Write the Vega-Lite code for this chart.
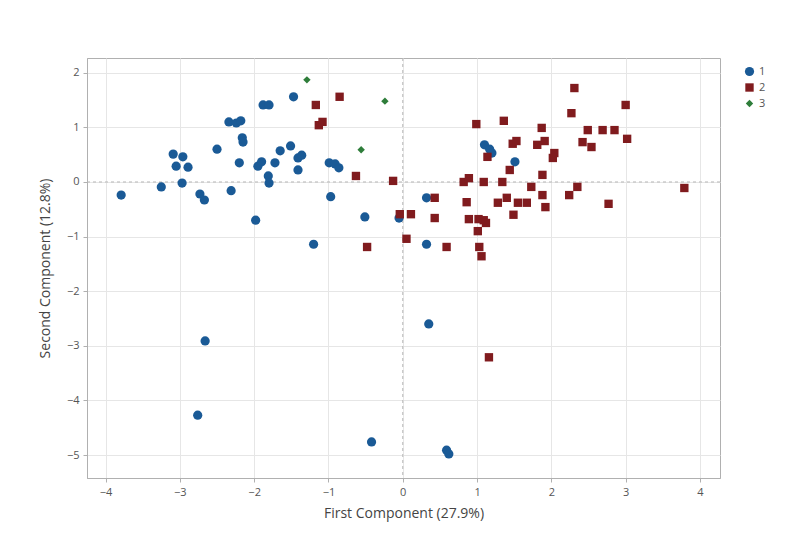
{
  "$schema": "https://vega.github.io/schema/vega-lite/v6.json",
  "width": 633,
  "height": 420,
  "autosize": {"type": "none"},
  "padding": {"left": 87, "top": 58, "right": 85, "bottom": 61},
  "background": "white",
  "config": {
    "font": "Open Sans",
    "view": {"stroke": "#b0b0b0", "strokeWidth": 1},
    "axis": {
      "labelFont": "Open Sans", "titleFont": "Open Sans",
      "labelColor": "#555", "titleColor": "#444",
      "labelFontSize": 11, "titleFontSize": 14, "titleFontWeight": "normal",
      "gridColor": "#e6e6e6", "domainColor": "#b0b0b0", "tickColor": "#b0b0b0",
      "tickSize": 4
    }
  },
  "datasets": {
    "pts": [
      {"x": -3.79, "y": -0.24, "g": "1"},
      {"x": -3.25, "y": -0.09, "g": "1"},
      {"x": -2.97, "y": -0.02, "g": "1"},
      {"x": -3.09, "y": 0.51, "g": "1"},
      {"x": -2.96, "y": 0.46, "g": "1"},
      {"x": -3.05, "y": 0.29, "g": "1"},
      {"x": -2.89, "y": 0.27, "g": "1"},
      {"x": -2.50, "y": 0.60, "g": "1"},
      {"x": -2.34, "y": 1.10, "g": "1"},
      {"x": -2.24, "y": 1.08, "g": "1"},
      {"x": -2.18, "y": 1.12, "g": "1"},
      {"x": -2.16, "y": 0.81, "g": "1"},
      {"x": -2.15, "y": 0.73, "g": "1"},
      {"x": -2.20, "y": 0.35, "g": "1"},
      {"x": -2.73, "y": -0.22, "g": "1"},
      {"x": -2.67, "y": -0.33, "g": "1"},
      {"x": -2.31, "y": -0.16, "g": "1"},
      {"x": -1.98, "y": -0.70, "g": "1"},
      {"x": -1.88, "y": 1.41, "g": "1"},
      {"x": -1.80, "y": 1.41, "g": "1"},
      {"x": -1.65, "y": 0.57, "g": "1"},
      {"x": -1.51, "y": 0.66, "g": "1"},
      {"x": -1.41, "y": 0.44, "g": "1"},
      {"x": -1.36, "y": 0.49, "g": "1"},
      {"x": -1.95, "y": 0.29, "g": "1"},
      {"x": -1.90, "y": 0.37, "g": "1"},
      {"x": -1.72, "y": 0.35, "g": "1"},
      {"x": -1.81, "y": 0.11, "g": "1"},
      {"x": -1.80, "y": -0.02, "g": "1"},
      {"x": -1.41, "y": 0.22, "g": "1"},
      {"x": -1.47, "y": 1.56, "g": "1"},
      {"x": -0.99, "y": 0.35, "g": "1"},
      {"x": -0.91, "y": 0.33, "g": "1"},
      {"x": -0.86, "y": 0.26, "g": "1"},
      {"x": -0.97, "y": -0.27, "g": "1"},
      {"x": -1.20, "y": -1.14, "g": "1"},
      {"x": -0.51, "y": -0.64, "g": "1"},
      {"x": -0.05, "y": -0.66, "g": "1"},
      {"x": 0.32, "y": -0.29, "g": "1"},
      {"x": 0.32, "y": -1.14, "g": "1"},
      {"x": 1.10, "y": 0.68, "g": "1"},
      {"x": 1.17, "y": 0.60, "g": "1"},
      {"x": 1.20, "y": 0.53, "g": "1"},
      {"x": 1.51, "y": 0.37, "g": "1"},
      {"x": -2.66, "y": -2.91, "g": "1"},
      {"x": -2.76, "y": -4.27, "g": "1"},
      {"x": -0.42, "y": -4.76, "g": "1"},
      {"x": 0.35, "y": -2.60, "g": "1"},
      {"x": 0.59, "y": -4.91, "g": "1"},
      {"x": 0.62, "y": -4.98, "g": "1"},
      {"x": -1.17, "y": 1.41, "g": "2"},
      {"x": -0.85, "y": 1.56, "g": "2"},
      {"x": -1.13, "y": 1.04, "g": "2"},
      {"x": -1.08, "y": 1.10, "g": "2"},
      {"x": -0.63, "y": 0.11, "g": "2"},
      {"x": -0.13, "y": 0.02, "g": "2"},
      {"x": -0.48, "y": -1.19, "g": "2"},
      {"x": -0.04, "y": -0.59, "g": "2"},
      {"x": 0.11, "y": -0.59, "g": "2"},
      {"x": 0.05, "y": -1.04, "g": "2"},
      {"x": 0.43, "y": -0.29, "g": "2"},
      {"x": 0.43, "y": -0.66, "g": "2"},
      {"x": 0.59, "y": -1.19, "g": "2"},
      {"x": 0.86, "y": -0.37, "g": "2"},
      {"x": 0.82, "y": 0.00, "g": "2"},
      {"x": 0.89, "y": 0.07, "g": "2"},
      {"x": 1.09, "y": 0.00, "g": "2"},
      {"x": 1.34, "y": 0.00, "g": "2"},
      {"x": 0.99, "y": 1.06, "g": "2"},
      {"x": 1.36, "y": 1.12, "g": "2"},
      {"x": 1.14, "y": 0.46, "g": "2"},
      {"x": 1.44, "y": 0.22, "g": "2"},
      {"x": 1.48, "y": 0.70, "g": "2"},
      {"x": 1.53, "y": 0.75, "g": "2"},
      {"x": 1.28, "y": -0.38, "g": "2"},
      {"x": 1.40, "y": -0.29, "g": "2"},
      {"x": 1.55, "y": -0.38, "g": "2"},
      {"x": 1.67, "y": -0.38, "g": "2"},
      {"x": 1.49, "y": -0.60, "g": "2"},
      {"x": 0.89, "y": -0.68, "g": "2"},
      {"x": 1.02, "y": -0.68, "g": "2"},
      {"x": 1.09, "y": -0.70, "g": "2"},
      {"x": 1.12, "y": -0.75, "g": "2"},
      {"x": 1.01, "y": -0.90, "g": "2"},
      {"x": 1.03, "y": -1.19, "g": "2"},
      {"x": 1.06, "y": -1.36, "g": "2"},
      {"x": 1.16, "y": -3.21, "g": "2"},
      {"x": 1.73, "y": -0.09, "g": "2"},
      {"x": 1.88, "y": 0.13, "g": "2"},
      {"x": 1.88, "y": -0.24, "g": "2"},
      {"x": 1.92, "y": -0.46, "g": "2"},
      {"x": 1.87, "y": 0.99, "g": "2"},
      {"x": 1.91, "y": 0.75, "g": "2"},
      {"x": 1.81, "y": 0.68, "g": "2"},
      {"x": 2.04, "y": 0.53, "g": "2"},
      {"x": 2.02, "y": 0.44, "g": "2"},
      {"x": 2.31, "y": 1.72, "g": "2"},
      {"x": 2.27, "y": 1.26, "g": "2"},
      {"x": 3.00, "y": 1.41, "g": "2"},
      {"x": 2.49, "y": 0.95, "g": "2"},
      {"x": 2.69, "y": 0.95, "g": "2"},
      {"x": 2.85, "y": 0.95, "g": "2"},
      {"x": 3.02, "y": 0.79, "g": "2"},
      {"x": 2.42, "y": 0.73, "g": "2"},
      {"x": 2.54, "y": 0.64, "g": "2"},
      {"x": 2.35, "y": -0.09, "g": "2"},
      {"x": 2.24, "y": -0.24, "g": "2"},
      {"x": 2.77, "y": -0.40, "g": "2"},
      {"x": 3.79, "y": -0.11, "g": "2"},
      {"x": -1.29, "y": 1.87, "g": "3"},
      {"x": -0.24, "y": 1.48, "g": "3"},
      {"x": -0.56, "y": 0.59, "g": "3"}
    ],
    "zero": [{"v": 0}]
  },
  "layer": [
    {
      "data": {"name": "zero"},
      "mark": {"type": "rule", "color": "#b8b8b8", "strokeDash": [3, 3], "strokeWidth": 1},
      "encoding": {"x": {"field": "v", "type": "quantitative", "scale": {"domain": [-4.25, 4.27], "nice": false}}}
    },
    {
      "data": {"name": "zero"},
      "mark": {"type": "rule", "color": "#b8b8b8", "strokeDash": [3, 3], "strokeWidth": 1},
      "encoding": {"y": {"field": "v", "type": "quantitative", "scale": {"domain": [-5.42, 2.27], "nice": false}}}
    },
    {
      "data": {"name": "pts"},
      "mark": {"type": "point", "filled": true, "opacity": 1, "stroke": null},
      "encoding": {
        "x": {"field": "x", "type": "quantitative", "title": "First Component (27.9%)",
              "scale": {"domain": [-4.25, 4.27], "nice": false, "zero": false},
              "axis": {"values": [-4, -3, -2, -1, 0, 1, 2, 3, 4], "labelExpr": "format(datum.value, 'd')", "titlePadding": 9, "labelPadding": 4}},
        "y": {"field": "y", "type": "quantitative", "title": "Second Component (12.8%)",
              "scale": {"domain": [-5.42, 2.27], "nice": false, "zero": false},
              "axis": {"values": [-5, -4, -3, -2, -1, 0, 1, 2], "labelExpr": "format(datum.value, 'd')", "titlePadding": 14, "labelPadding": 4}},
        "color": {"field": "g", "type": "nominal",
                  "scale": {"domain": ["1", "2", "3"], "range": ["#1a5a96", "#801b1e", "#2e7d3a"]},
                  "legend": {"title": null, "orient": "none", "legendX": 657, "legendY": 8, "labelFontSize": 11, "labelColor": "#555", "rowPadding": 4, "symbolSize": 60}},
        "shape": {"field": "g", "type": "nominal",
                  "scale": {"domain": ["1", "2", "3"], "range": ["circle", "square", "diamond"]}},
        "size": {"field": "g", "type": "nominal",
                 "scale": {"domain": ["1", "2", "3"], "range": [85, 55, 35]}, "legend": null}
      }
    }
  ]
}
